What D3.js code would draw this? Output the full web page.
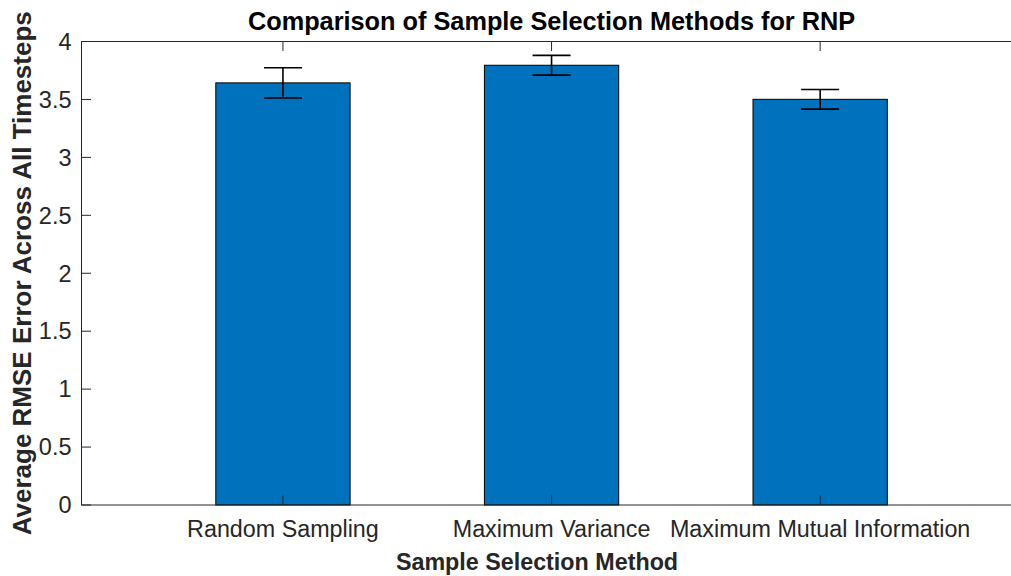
<!DOCTYPE html>
<html>
<head>
<meta charset="utf-8">
<script src="https://cdn.jsdelivr.net/npm/d3@7"></script>
<style>
  html, body { margin: 0; padding: 0; background: #fff; }
  svg { display: block; font-family: "Liberation Sans", Arial, Helvetica, sans-serif; }
</style>
</head>
<body>
<svg id="chart" width="1011" height="576"></svg>
<script>
// Sample selection methods and their average RMSE with error bars
const categories = ["Random Sampling", "Maximum Variance", "Maximum Mutual Information"];
const meanRmse = [3.643, 3.795, 3.501];
const errRmse = [0.131, 0.085, 0.085];
const yTicks = [0, 0.5, 1, 1.5, 2, 2.5, 3, 3.5, 4];
const yTickLabels = ["0", "0.5", "1", "1.5", "2", "2.5", "3", "3.5", "4"];

const svg = d3.select("#chart");
const plot = { left: 81.5, right: 1021.6, top: 41.5, bottom: 505 };
const axisColor = "#262626";
const tickLen = 9.5;

// Categories sit at positions 1..n, axis limits padded by 0.75
const x = d3.scaleLinear()
  .domain([0.25, categories.length + 0.75])
  .range([plot.left, plot.right]);
const y = d3.scaleLinear()
  .domain([0, 4])
  .range([plot.bottom, plot.top]);

const barWidth = 0.5;
const data = categories.map((c, i) => ({ name: c, pos: i + 1, mean: meanRmse[i], err: errRmse[i] }));

// Bars
svg.append("g").selectAll("rect")
  .data(data)
  .join("rect")
  .attr("x", d => x(d.pos - barWidth / 2))
  .attr("width", d => x(d.pos + barWidth / 2) - x(d.pos - barWidth / 2))
  .attr("y", d => y(d.mean))
  .attr("height", d => y(0) - y(d.mean))
  .attr("fill", "#0072BD")
  .attr("stroke", "#000")
  .attr("stroke-width", 1);

// Error bars
const capHalf = 19;
const eb = svg.append("g").attr("stroke", "#000").attr("stroke-width", 1.6);
eb.selectAll("line.v").data(data).join("line").attr("class", "v")
  .attr("x1", d => x(d.pos)).attr("x2", d => x(d.pos))
  .attr("y1", d => y(d.mean + d.err)).attr("y2", d => y(d.mean - d.err));
eb.selectAll("line.top").data(data).join("line").attr("class", "top")
  .attr("x1", d => x(d.pos) - capHalf).attr("x2", d => x(d.pos) + capHalf)
  .attr("y1", d => y(d.mean + d.err)).attr("y2", d => y(d.mean + d.err));
eb.selectAll("line.bot").data(data).join("line").attr("class", "bot")
  .attr("x1", d => x(d.pos) - capHalf).attr("x2", d => x(d.pos) + capHalf)
  .attr("y1", d => y(d.mean - d.err)).attr("y2", d => y(d.mean - d.err));

// Axes box with inward ticks on all sides
const axG = svg.append("g").attr("stroke", axisColor).attr("stroke-width", 1).attr("fill", "none");
axG.append("rect")
  .attr("x", plot.left).attr("y", plot.top)
  .attr("width", plot.right - plot.left).attr("height", plot.bottom - plot.top);

yTicks.forEach(t => {
  axG.append("line").attr("x1", plot.left).attr("x2", plot.left + tickLen)
    .attr("y1", y(t)).attr("y2", y(t));
  axG.append("line").attr("x1", plot.right).attr("x2", plot.right - tickLen)
    .attr("y1", y(t)).attr("y2", y(t));
});
data.forEach(d => {
  axG.append("line").attr("x1", x(d.pos)).attr("x2", x(d.pos))
    .attr("y1", plot.bottom).attr("y2", plot.bottom - tickLen);
  axG.append("line").attr("x1", x(d.pos)).attr("x2", x(d.pos))
    .attr("y1", plot.top).attr("y2", plot.top + tickLen);
});

// Y tick labels
svg.append("g").selectAll("text")
  .data(yTicks)
  .join("text")
  .attr("x", plot.left - 10)
  .attr("y", t => y(t) + 8.3)
  .attr("text-anchor", "end")
  .attr("font-size", 23.5)
  .attr("fill", axisColor)
  .text((t, i) => yTickLabels[i]);

// X tick labels
svg.append("g").selectAll("text")
  .data(data)
  .join("text")
  .attr("x", d => x(d.pos))
  .attr("y", 537.3)
  .attr("text-anchor", "middle")
  .attr("font-size", 23.3)
  .attr("fill", axisColor)
  .text(d => d.name);

// Title
svg.append("text")
  .attr("x", (plot.left + plot.right) / 2)
  .attr("y", 29.5)
  .attr("text-anchor", "middle")
  .attr("font-size", 25.3)
  .attr("font-weight", "bold")
  .attr("fill", "#000")
  .text("Comparison of Sample Selection Methods for RNP");

// Axis labels
svg.append("text")
  .attr("x", 537)
  .attr("y", 570)
  .attr("text-anchor", "middle")
  .attr("font-size", 23.3)
  .attr("font-weight", "bold")
  .attr("fill", axisColor)
  .text("Sample Selection Method");

svg.append("text")
  .attr("transform", `translate(30.5, ${(plot.top + plot.bottom) / 2}) rotate(-90)`)
  .attr("text-anchor", "middle")
  .attr("font-size", 26)
  .attr("font-weight", "bold")
  .attr("fill", axisColor)
  .text("Average RMSE Error Across All Timesteps");
</script>
</body>
</html>
